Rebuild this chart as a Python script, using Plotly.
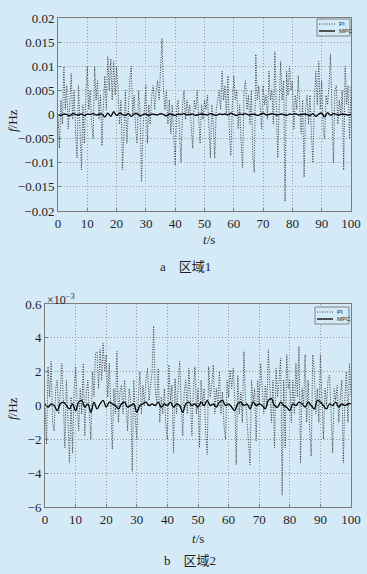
import numpy as np
import plotly.graph_objects as go

# ---------------- data ----------------
# Region 1, PI controller frequency deviation, units of 1e-3 Hz, t = 0..100 s step 0.5 s
pi1 = [0, -7, 3, -2, 10, 1, 6, -3, 2, 8.5, -1, 5, -4, -9, 6, -5, -11.5, 2, -6, 4,
       10, 1, 5, -2, -5, 10, 3, 7, -1, 4, -6.5, 2, 8, 1, 12, 5, 11.5, 3, 11, 4,
       10, 5, -2, 3, -11.5, -4, 5, -6, 2, 7, 10, 0, 4, -3, -6, 5, 1, -14, -3, 3,
       6, -6, 2, -2, 4, 6, 1, 5, 7, 3, 9, 15.8, 5, 1, 5, -2, 3, -4, 2, -6,
       -10.5, 1, 3, -4, -10, 2, 5, -1, 3, 0, 2, -3, -7, 3, 1, 5, -2, -6, 2, -1,
       3, 1, 4, -3, -9, 2, -2, -9, 1, 3, 5, 1, 9, 3, 6, 0, 8, -4, -8.5, 2,
       8, 3, 5, -3, 2, -6, -11, 5, 7, 1, 4, -2, 5, -9, -12, 12.5, 3, 6, 1, -3,
       6, 2, 4, -1, 9, 3, 5, -2, 13, 4, -9, 2, 11, 3, 7, -18, 9, 4, 10, 5,
       7, -3, 4, 1, 8, 2, -4, 3, -13, 1, 4, -2, 4, -4, -10, 3, 9, 2, 11, 1,
       7, -3, -5, 4, 2, 6, 12.5, 1, -10, 5, 6, -2, 3, 0, 5, -11.5, 10, 2, 6, -5, 6]
# Region 1, MPC controller, units of 1e-3 Hz, t = 0..100 s step 1 s
mpc1 = [0, -0.2, 0.1, 0, -0.3, 0.2, 0, -0.1, 0.1, -0.2, 0.1, 0, 0.2, -0.1, 0, 0.1,
        -0.5, 0.3, -0.4, 0.6, -0.2, 0.3, 0, -0.2, 0.2, -0.4, 0.1, 0.2, -0.3, 0, 0.1,
        -0.2, 0.1, 0, -0.1, 0.2, 0, -0.3, 0.1, 0, -0.2, 0.1, 0, 0.2, -0.1, 0, 0.1,
        -0.2, 0, 0.1, 0, -0.1, 0.2, 0, -0.2, 0.1, 0, 0.1, -0.1, 0.3, 0, -0.2, 0.1,
        0, 0.2, -0.1, 0, 0.1, -0.2, 0, 0.3, -0.1, 0, 0.2, 0, -0.1, 0.1, 0, -0.2,
        0.1, 0, 0.2, -0.1, 0, 0.1, 0, -0.2, 0.2, -0.4, 0.1, 0.3, -0.5, 0.4, -0.2,
        0.2, 0, -0.1, 0.1, 0, -0.1, 0]

# Region 2, PI controller, units of 1e-3 Hz, t = 0..100 s step 0.5 s
pi2 = [0, -2.3, 2.3, 0.5, 2.6, -1, -1.5, 1, 1.5, -0.5, 0.8, 2.5, 0.2, -2.5, 1.5, -1.2,
       -3.4, 0.5, -2.8, 0.8, 2.3, 0.3, -1.5, 1, -0.5, 2.5, -1.8, 0.8, 1.5, -0.5,
       -2, 2, 0.5, 3.1, 3.2, 1, 3.3, 1.5, 3.7, 2, 3, 0.5, 2.5, 0, -2.6, 1, -0.5,
       3.2, -1, 0.8, 1.2, -0.5, 1.5, 0, -1.5, 1, 0.3, -3.9, 1.5, -0.8, -2, 0.5, 2,
       -0.5, 1.2, 0, 1.5, 2.2, 0.3, 1.2, 2, 4.7, 1, 0.2, 2.2, -1, 0.5, -0.5, 1,
       -1.2, -2, 2.4, 0.3, 1.2, -2.8, 1.6, -0.5, 1, 2.6, 0.2, -1.8, 0.8, 1.5, -0.5,
       2.2, 0.5, -1.8, 1, 2.3, -0.5, 1, -2.5, 1.5, 0, 1, -1.5, -2.9, 2.3, 0.5, 1.2,
       2.4, -0.5, 1, 0, 2, -0.5, 0.8, -1.2, -2, 1.5, 0.5, 2.1, 1, 2.2, 0.5, -3.5,
       1.8, -0.5, 0.8, -1, 3.2, 0.5, -1, -2, -3.5, 1.5, 0.2, 1, -2.1, 1.5, 0, 2.5,
       1, -0.5, 1.2, 0, 3.3, 0.5, -1, 1.5, -2.5, 2.2, 0.5, 1.5, 2.8, -5.3, 1.5,
       -2.5, 3, 1, 1.5, -1, 1.5, -0.5, 2.5, 0.5, 3.5, -3.4, 1, 0, 3, -1, 1.5, -1.5,
       -3, 3, 2, -0.5, 1, -1, 3, 0.5, -2, 1, 0, 1.5, 1.8, -0.5, -2.8, 1, 0.3, 1.2,
       -1, 0.5, 1.5, -3.4, 0.5, 2, -1, 2.5, 0.5]
# Region 2, MPC controller, units of 1e-3 Hz, t = 0..100 s step 1 s
mpc2 = [0.1, -0.1, 0.1, 0, -0.3, 0.1, 0.2, 0, -0.2, 0.1, -0.3, 0.2, 0.3, -0.1, 0.1,
        -0.4, 0.2, -0.2, 0.1, 0.3, -0.1, 0.2, 0.1, 0, -0.2, 0.1, 0.2, -0.1, 0, 0.1,
        -0.4, 0, 0.1, 0.2, 0, 0.1, 0, 0.2, -0.1, 0.1, 0, 0.2, -0.1, 0.1, 0, -0.4,
        0.1, 0.2, 0, 0.1, -0.1, 0.2, 0, 0.3, 0, 0.1, -0.1, 0.2, 0.3, 0, 0.1, -0.1,
        -0.3, 0.1, 0.2, 0, 0.1, -0.2, 0.2, 0, 0.1, 0, -0.2, 0.3, 0.4, 0, -0.1, 0.2,
        0, -0.1, -0.3, 0.1, 0, 0.2, 0.1, -0.1, 0.2, 0, -0.2, 0.3, 0.2, 0, -0.2, 0.1,
        0, 0.2, -0.1, 0.1, 0, 0.1, 0.1]

x_ticks = [0, 10, 20, 30, 40, 50, 60, 70, 80, 90, 100]
y1_ticks = [-0.02, -0.015, -0.01, -0.005, 0, 0.005, 0.01, 0.015, 0.02]
y1_labels = ["\u22120.02", "\u22120.015", "\u22120.01", "\u22120.005", "0",
             "0.005", "0.01", "0.015", "0.02"]
y2_ticks = [-6, -4, -2, 0, 2, 4, 6]
y2_labels = ["\u22126", "\u22124", "\u22122", "0", "2", "4", "0.6"]
legend_names = ["PI", "MPC"]
captions = ["a\u3000区域1", "b\u3000区域2"]

# ---------------- figure ----------------
W, H = 367, 574
BG = "#d5eaf7"
SERIF = "Liberation Serif, Times New Roman, serif"
CJK = "Liberation Serif, Noto Sans CJK SC, serif"
TXT = "#1e1e28"
PI_LINE = dict(color="#3c3c3c", width=1, dash="1px,1.5px")

def px(x):
    return x / W

def py(y):
    return 1 - y / H

t1 = np.linspace(0, 100, len(pi1))
tm1 = np.linspace(0, 100, len(mpc1))
t2 = np.linspace(0, 100, len(pi2))
tm2 = np.linspace(0, 100, len(mpc2))

fig = go.Figure()
fig.add_trace(go.Scatter(x=t1, y=np.array(pi1) * 1e-3, mode="lines", line=PI_LINE,
                         name=legend_names[0], xaxis="x", yaxis="y"))
fig.add_trace(go.Scatter(x=tm1, y=np.array(mpc1) * 1e-3, mode="lines",
                         line=dict(color="#000000", width=1.3, shape="spline"),
                         name=legend_names[1], xaxis="x", yaxis="y"))
fig.add_trace(go.Scatter(x=t2, y=pi2, mode="lines", line=PI_LINE,
                         name=legend_names[0], xaxis="x2", yaxis="y2"))
fig.add_trace(go.Scatter(x=tm2, y=mpc2, mode="lines",
                         line=dict(color="#000000", width=1.3, shape="spline"),
                         name=legend_names[1], xaxis="x2", yaxis="y2"))

axis_common = dict(showline=True, linecolor="#7c7c7c", linewidth=1, mirror=True,
                   showgrid=True, gridcolor="#9a9a9a", gridwidth=1, griddash="1px,2px",
                   ticks="inside", ticklen=3, tickcolor="#7c7c7c", zeroline=False,
                   automargin=False,
                   tickfont=dict(family=SERIF, size=13, color=TXT))

fig.update_layout(
    width=W, height=H, margin=dict(l=0, r=0, t=0, b=0, autoexpand=False),
    paper_bgcolor=BG, plot_bgcolor=BG, showlegend=False,
    xaxis=dict(domain=[px(58), px(351)], range=[0, 100], tickvals=x_ticks,
               anchor="y", **axis_common),
    yaxis=dict(domain=[py(211), py(18)], range=[-0.02, 0.02], tickvals=y1_ticks,
               ticktext=y1_labels, anchor="x", **axis_common),
    xaxis2=dict(domain=[px(45), px(351)], range=[0, 100], tickvals=x_ticks,
                anchor="y2", **axis_common),
    yaxis2=dict(domain=[py(507), py(304)], range=[-6, 6], tickvals=y2_ticks,
                ticktext=y2_labels, anchor="x2", **axis_common),
)

ann = []

def label(x, y, text, size=13, family=SERIF, angle=0, xanchor="center"):
    ann.append(dict(x=px(x), y=py(y), text=text, textangle=angle, showarrow=False,
                    xanchor=xanchor, yanchor="middle", xref="paper", yref="paper",
                    font=dict(family=family, size=size, color=TXT)))

# axis titles and captions
label(12, 120, "<i>f</i>/Hz", angle=-90)
label(209, 239, "<i>t</i>/s")
label(185, 266, captions[0], family=CJK)
label(12, 408, "<i>f</i>/Hz", angle=-90)
label(198, 538, "<i>t</i>/s")
label(190, 560, captions[1], family=CJK)
label(45, 299, "\u00d710<sup>\u22123</sup>", size=12, xanchor="left")

# legends (small boxes, top-right)
shapes = []
for (bx0, by0, bx1, by1) in [(317, 19, 350, 36), (315, 307, 349, 324)]:
    shapes.append(dict(type="rect", xref="paper", yref="paper",
                       x0=px(bx0), x1=px(bx1), y0=py(by1), y1=py(by0),
                       line=dict(color="#6a6a6a", width=0.8), fillcolor=BG))
    ly1 = by0 + 5
    ly2 = by0 + 12
    shapes.append(dict(type="line", xref="paper", yref="paper",
                       x0=px(bx0 + 2), x1=px(bx0 + 18), y0=py(ly1), y1=py(ly1),
                       line=PI_LINE))
    shapes.append(dict(type="line", xref="paper", yref="paper",
                       x0=px(bx0 + 2), x1=px(bx0 + 18), y0=py(ly2), y1=py(ly2),
                       line=dict(color="#000000", width=1.3)))
    label(bx0 + 20, ly1, legend_names[0], size=6, family="Liberation Sans, sans-serif",
          xanchor="left")
    label(bx0 + 20, ly2, legend_names[1], size=6, family="Liberation Sans, sans-serif",
          xanchor="left")

fig.update_layout(annotations=ann, shapes=shapes)
fig.write_html(
    "out.html",
    config={"displayModeBar": False},
    post_script="document.body.style.margin='0';document.body.style.padding='0';"
                "document.body.style.background='" + BG + "';"
                "document.documentElement.style.overflow='hidden';",
)
